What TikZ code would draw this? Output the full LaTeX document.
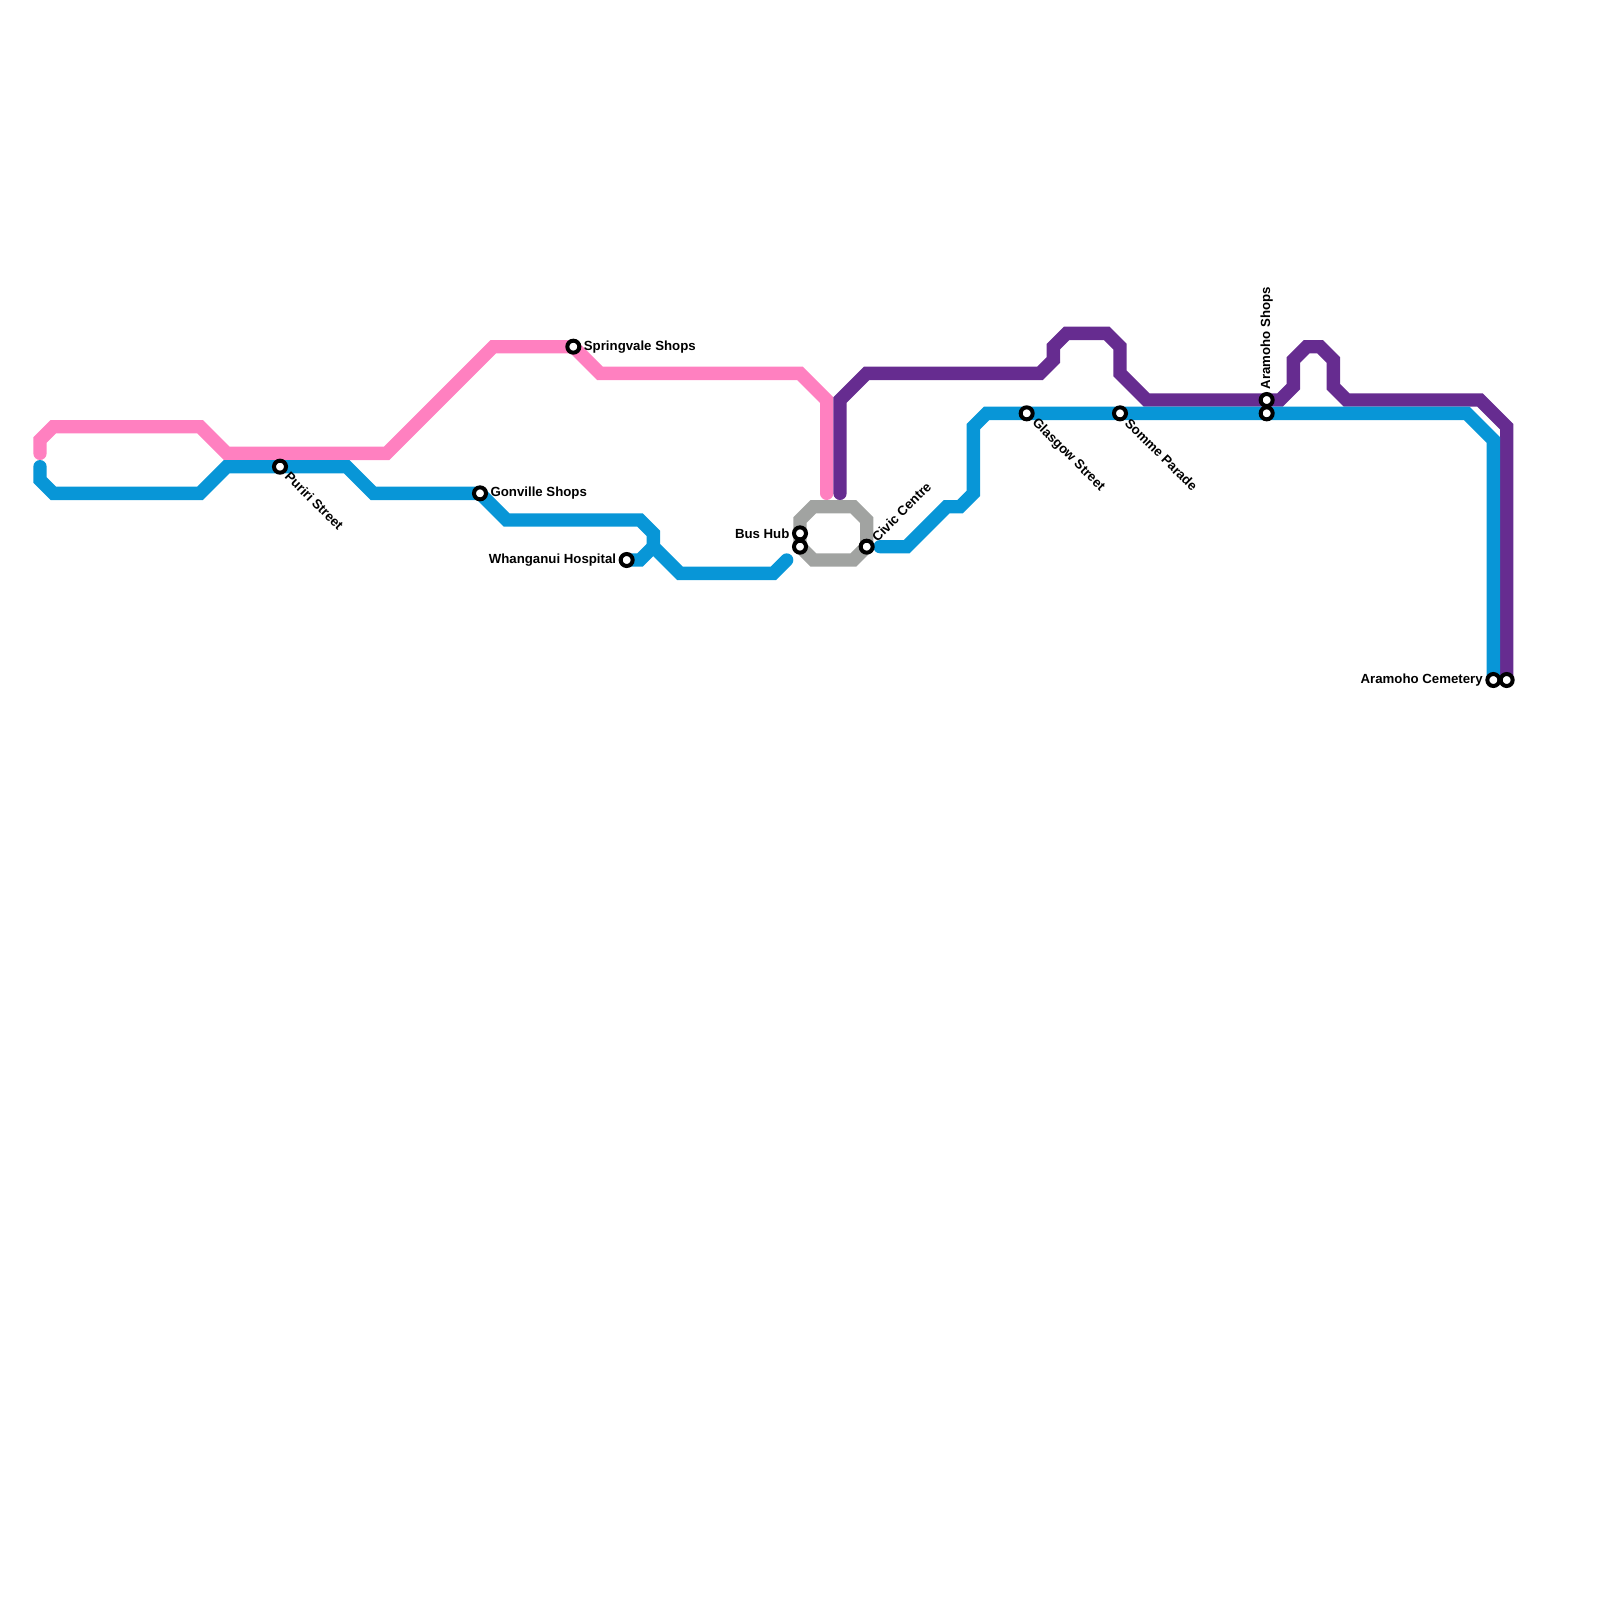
\documentclass[tikz,border=0pt]{standalone}
\usepackage{fontspec}
\setmainfont{Liberation Sans}
\usetikzlibrary{positioning, backgrounds}
\definecolor{linepink}{HTML}{FF80C0}
\definecolor{lineblue}{HTML}{0896D7}
\definecolor{linepurple}{HTML}{662C90}
\definecolor{linegray}{HTML}{A1A3A1}
\tikzstyle{station} = [circle, draw=black, fill=white, line width=0.12cm, minimum size=0.36cm, inner sep=0pt]
\tikzstyle{stationlabel} = [font=\fontsize{11.3}{13}\selectfont\bfseries, text=black, inner sep=2pt]
\tikzstyle{route} = [line width=0.4cm, line cap=round]

\begin{document}
\begin{tikzpicture}[x=0.4cm, y=-0.4cm]
\useasboundingbox (0,0) rectangle (120,120);

% Stations
\node[station] (puriri) at (21,35) {};
\node[station] (gonville) at (36,37) {};
\node[station] (springvale) at (43,26) {};
\node[station] (hospital) at (47,42) {};
\node[station] (bushub) at (60,40) {};
\node[station] (bushubb) at (60,41) {};
\node[station] (civic) at (65,41) {};
\node[station] (glasgow) at (77,31) {};
\node[station] (somme) at (84,31) {};
\node[station] (shopsa) at (95,30) {};
\node[station] (shopsb) at (95,31) {};
\node[station] (cemeterya) at (112,51) {};
\node[station] (cemeteryb) at (113,51) {};

% Labels
\node[stationlabel, rotate=-45, anchor=west] (puririlabel) at (puriri.-45) {Puriri Street};
\node[stationlabel, right=0pt of gonville] (gonvillelabel) {Gonville Shops};
\node[stationlabel, right=0pt of springvale] (springvalelabel) {Springvale Shops};
\node[stationlabel, left=0pt of hospital] (hospitallabel) {Whanganui Hospital};
\node[stationlabel, left=0pt of bushub] (bushublabel) {Bus Hub};
\node[stationlabel, rotate=45, anchor=west] (civiclabel) at (civic.45) {Civic Centre};
\node[stationlabel, rotate=-45, anchor=west] (glasgowlabel) at (glasgow.-45) {Glasgow Street};
\node[stationlabel, rotate=-45, anchor=west] (sommelabel) at (somme.-45) {Somme Parade};
\node[stationlabel, rotate=90, anchor=west] (shopslabel) at (shopsa.north) {Aramoho Shops};
\node[stationlabel, left=0pt of cemeterya] (cemeterylabel) {Aramoho Cemetery};

% Lines
\begin{scope}[on background layer]
\draw[route, linegray] (bushub.center) -- (60,39) -- (61,38) -- (64,38) -- (65,39) -- (civic.center)
    -- (64,42) -- (61,42) -- (bushubb.center) -- cycle;
\draw[route, linepink] (3,34) -- (3,33) -- (4,32) -- (15,32) -- (17,34) -- (29,34) -- (37,26)
    -- (springvale.center) -- (45,28) -- (60,28) -- (62,30) -- (62,37);
\draw[route, linepurple] (63,37) -- (63,30) -- (65,28) -- (78,28) -- (79,27) -- (79,26) -- (80,25)
    -- (83,25) -- (84,26) -- (84,28) -- (86,30) -- (shopsa.center) -- (96,30) -- (97,29) -- (97,27)
    -- (98,26) -- (99,26) -- (100,27) -- (100,29) -- (101,30) -- (111,30) -- (113,32) -- (cemeteryb.center);
\draw[route, lineblue] (3,35) -- (3,36) -- (4,37) -- (15,37) -- (17,35) -- (puriri.center) -- (26,35)
    -- (28,37) -- (gonville.center) -- (38,39) -- (48,39) -- (49,40) -- (49,41) -- (51,43) -- (58,43) -- (59,42);
\draw[route, lineblue] (hospital.center) -- (48,42) -- (49,41);
\draw[route, lineblue] (66,41) -- (68,41) -- (71,38) -- (72,38) -- (73,37) -- (73,32) -- (74,31)
    -- (glasgow.center) -- (somme.center) -- (shopsb.center) -- (110,31) -- (112,33) -- (cemeterya.center);
\end{scope}

\end{tikzpicture}
\end{document}
